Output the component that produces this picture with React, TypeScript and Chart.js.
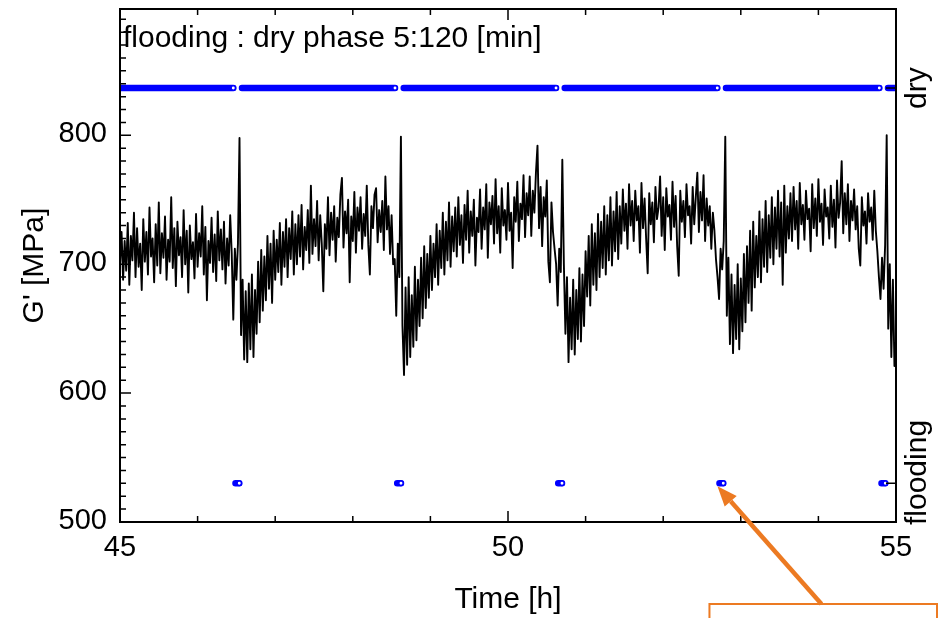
import React, { useEffect, useRef } from "react";
import { Chart, registerables } from "chart.js";

Chart.register(...registerables);

const FONT = "'Liberation Sans', Arial, Helvetica, sans-serif";
const ORANGE = "#EC7A22";
const BLUE = "rgb(0,0,255)";
const TICK_FONT = 29;
const TITLE_FONT = 30;

// x axis (time, h)
const TIME_START = 45;
const TIME_END = 55;
const X_MAJOR_STEP = 5;
const X_MINOR_STEP = 1;
// y axis (G', MPa)
const Y_MIN = 500;
const Y_MAX = 898;
const Y_MAJOR_STEP = 100;
const Y_MINOR_STEP = 10;
const yTickLabels = [500, 600, 700, 800];

// sampling interval of the G' record (h)
const SAMPLE_STEP_H = 0.02;

// start time of each G' record segment (h)
const segmentStarts = [45.0, 46.46, 48.54, 50.62, 52.7, 54.78];

// G' [MPa] values
const gSeg0 = [
  700, 725, 688, 718, 695, 732, 684, 722, 703, 740,
  690, 728, 698, 716, 680, 735, 702, 725, 692, 744,
  706, 720, 686, 731, 699, 748, 693, 724, 705, 737,
  688, 719, 702, 752, 697, 728, 683, 733, 707, 721,
  690, 742, 700, 726, 678, 730, 704, 717, 689, 739,
  698, 724, 706, 745, 692, 729, 672, 718, 701, 736,
  694, 723, 687, 741, 703, 727, 696, 733, 685, 720,
  699, 738, 708,
];
const gSeg1 = [
  657, 712, 688, 716, 798, 645, 688, 626, 679, 624,
  685, 634, 692, 628, 680, 646, 702, 655, 711, 664,
  706, 672, 722, 681, 716, 670, 726, 688, 719, 694,
  732, 684, 725, 698, 735, 690, 728, 704, 741, 692,
  731, 700, 738, 706, 746, 696, 729, 711, 742, 701,
  761, 708, 735, 714, 749, 703, 738, 716, 679, 731,
  712, 752, 707, 740, 719, 745, 702, 736, 721, 754,
  767, 713, 741, 724, 750, 686, 737, 718, 756, 709,
  744, 726, 752, 712, 739, 722, 761, 715, 692, 745,
  728, 754, 759, 717, 742, 725, 749, 711, 768, 727,
  745, 708, 738, 700,
];
const gSeg2 = [
  704, 660, 716, 690, 799, 652, 614, 682, 622, 690,
  628, 676, 636, 698, 641, 688, 652, 705, 658, 714,
  666, 708, 674, 722, 680, 716, 690, 731, 684, 726,
  697, 740, 692, 733, 703, 748, 698, 737, 710, 744,
  706, 752, 715, 738, 701, 746, 719, 757, 709, 741,
  722, 750, 699, 736, 725, 758, 712, 744, 727, 762,
  705, 748, 731, 753, 716, 766, 724, 745, 709, 759,
  730, 742, 719, 763, 726, 740, 697, 752, 733, 764,
  718, 747, 735, 769, 721, 755, 738, 768, 722, 757,
  740, 771, 792, 728, 760, 714, 752, 737, 765, 702,
  686, 748, 725, 712,
];
const gSeg3 = [
  700, 668, 712, 694, 781, 700, 646, 690, 624, 674,
  634, 688, 630, 680, 642, 697, 640, 692, 652, 710,
  675, 722, 668, 731, 684, 724, 680, 739, 690, 733,
  697, 745, 692, 738, 703, 752, 699, 741, 710, 756,
  704, 745, 716, 758, 726, 747, 712, 762, 730, 749,
  718, 757, 734, 745, 709, 763, 728, 751, 720, 693,
  755, 731, 748, 717, 760, 735, 744, 768, 722, 752,
  711, 759, 737, 746, 719, 764, 729, 753, 714, 691,
  757, 733, 749, 721, 762, 738, 745, 716, 760, 731,
  752, 771, 725, 756, 734, 769, 718, 751, 730, 745,
  712, 740, 726, 704,
];
const gSeg4 = [
  690, 673, 712, 696, 718, 799, 660, 705, 638, 692,
  631, 684, 642, 700, 634, 689, 648, 708, 655, 714,
  670, 726, 664, 733, 682, 722, 690, 741, 686, 735,
  698, 749, 694, 738, 705, 752, 700, 744, 712, 757,
  706, 748, 684, 761, 709, 745, 720, 755, 718, 760,
  727, 749, 712, 763, 731, 746, 719, 757, 735, 743,
  710, 762, 728, 751, 722, 766, 733, 747, 715, 758,
  737, 744, 720, 761, 729, 750, 713, 765, 736, 748,
  780, 724, 755, 731, 762, 718, 749, 734, 758, 727,
  745, 712, 699, 752, 730, 741, 716, 755, 733, 744,
  719, 757, 726, 710,
];
const gSeg5 = [690, 673, 705, 681, 715, 800, 650, 700, 628, 688, 621, 640];

const gSegments = [gSeg0, gSeg1, gSeg2, gSeg3, gSeg4, gSeg5];

// phase state series: dry and flooding intervals (h)
const drySegments = [
  [45.0, 46.46],
  [46.572, 48.544],
  [48.656, 50.619],
  [50.731, 52.697],
  [52.809, 54.785],
  [54.897, 55.0],
];
const floodSegments = [
  [46.488, 46.537],
  [48.572, 48.621],
  [50.647, 50.696],
  [52.725, 52.774],
  [54.813, 54.862],
];
const STATE_FLOOD = 0;
const STATE_DRY = 1;
const stateLabels = ["flooding", "dry"];
const STATE_MIN = -0.098;
const STATE_MAX = 1.2;

const titleText = "flooding : dry phase 5:120 [min]";
const xTitle = "Time [h]";
const yTitle = "G' [MPa]";
const annotatedFlood = 3;

function buildGData() {
  const pts: { x: number; y: number }[] = [];
  gSegments.forEach((seg, s) => {
    seg.forEach((v, k) => {
      pts.push({ x: segmentStarts[s] + k * SAMPLE_STEP_H, y: v });
    });
  });
  return pts;
}

function buildStateData(segs: number[][], level: number) {
  const pts: any[] = [];
  segs.forEach(([a, b]) => {
    pts.push({ x: a, y: level });
    pts.push({ x: b, y: level, end: b < TIME_END });
    pts.push({ x: b, y: null });
  });
  return pts;
}

function fixBox(dim: "width" | "height", size: number) {
  return (s: any) => {
    s[dim] = size;
    s.paddingTop = 0;
    s.paddingBottom = 0;
    s.paddingLeft = 0;
    s.paddingRight = 0;
  };
}

const decorPlugin = {
  id: "decor",
  afterDatasetsDraw(chart: any) {
    const { ctx, chartArea: a, scales } = chart;
    const xs = scales.x;
    const ys = scales.y;
    const ss = scales.state;
    ctx.save();
    ctx.strokeStyle = "#000";
    ctx.lineWidth = 1.5;
    ctx.beginPath();
    const nX = Math.round((TIME_END - TIME_START) / X_MINOR_STEP);
    for (let k = 0; k <= nX; k++) {
      const t = TIME_START + k * X_MINOR_STEP;
      const px = xs.getPixelForValue(t);
      const major = Math.abs((t - TIME_START) % X_MAJOR_STEP) < 1e-6;
      const len = major ? 11 : 6;
      ctx.moveTo(px, a.bottom);
      ctx.lineTo(px, a.bottom - len);
      ctx.moveTo(px, a.top);
      ctx.lineTo(px, a.top + len);
    }
    const nY = Math.floor((Y_MAX - Y_MIN) / Y_MINOR_STEP);
    for (let k = 0; k <= nY; k++) {
      const v = Y_MIN + k * Y_MINOR_STEP;
      const py = ys.getPixelForValue(v);
      const major = (v - Y_MIN) % Y_MAJOR_STEP === 0;
      const len = major ? 11 : 6;
      ctx.moveTo(a.left, py);
      ctx.lineTo(a.left + len, py);
    }
    [STATE_FLOOD, STATE_DRY].forEach((s) => {
      const py = ss.getPixelForValue(s);
      ctx.moveTo(a.right, py);
      ctx.lineTo(a.right - 10, py);
    });
    ctx.stroke();
    ctx.lineWidth = 2;
    ctx.strokeRect(a.left, a.top, a.right - a.left, a.bottom - a.top);

    ctx.fillStyle = "#000";

    // y tick labels
    ctx.font = `${TICK_FONT}px ${FONT}`;
    ctx.textAlign = "right";
    ctx.textBaseline = "middle";
    yTickLabels.forEach((v) => {
      ctx.fillText(String(v), a.left - 13, ys.getPixelForValue(v) - 1);
    });

    // in-plot title
    ctx.font = `${TITLE_FONT}px ${FONT}`;
    ctx.textAlign = "left";
    ctx.textBaseline = "alphabetic";
    ctx.fillText(titleText, a.left + 3, a.top + 38);

    // right state labels (rotated)
    const cx = ss.left + ss.width / 2 + 1;
    [STATE_FLOOD, STATE_DRY].forEach((s) => {
      const label = stateLabels[s];
      const w = ctx.measureText(label).width;
      let cy = ss.getPixelForValue(s);
      cy = Math.min(cy, a.bottom + 3 - w / 2);
      ctx.save();
      ctx.translate(cx, cy);
      ctx.rotate(-Math.PI / 2);
      ctx.textAlign = "center";
      ctx.textBaseline = "middle";
      ctx.fillText(label, 0, 0);
      ctx.restore();
    });

    // orange annotation arrow + box
    const target = floodSegments[annotatedFlood];
    const tipX = xs.getPixelForValue(target[0]) - 2;
    const tipY = ss.getPixelForValue(STATE_FLOOD) + 3;
    const boxLeft = tipX - 8;
    const boxTop = chart.height - 14;
    const sx = boxLeft + 112;
    const sy = boxTop;
    const ang = Math.atan2(tipY - sy, tipX - sx);
    const headLen = 20;
    const headW = 8;
    const bx = tipX - headLen * Math.cos(ang);
    const by = tipY - headLen * Math.sin(ang);
    ctx.strokeStyle = ORANGE;
    ctx.fillStyle = ORANGE;
    ctx.lineWidth = 4.5;
    ctx.lineCap = "butt";
    ctx.beginPath();
    ctx.moveTo(sx, sy);
    ctx.lineTo(bx, by);
    ctx.stroke();
    ctx.beginPath();
    ctx.moveTo(tipX, tipY);
    ctx.lineTo(bx + headW * Math.sin(ang), by - headW * Math.cos(ang));
    ctx.lineTo(bx - headW * Math.sin(ang), by + headW * Math.cos(ang));
    ctx.closePath();
    ctx.fill();
    ctx.lineWidth = 2;
    ctx.strokeRect(boxLeft, boxTop, chart.width - 1 - boxLeft, 40);
    ctx.restore();
  },
};

export default function App() {
  const ref = useRef<HTMLCanvasElement>(null);
  useEffect(() => {
    if (!ref.current) return;
    const stateStyle = {
      borderColor: BLUE,
      borderWidth: 6.5,
      borderCapStyle: "round",
      pointRadius: (c: any) => (c.raw && c.raw.end ? 2.2 : 0),
      pointBackgroundColor: "#fff",
      pointBorderColor: BLUE,
      pointBorderWidth: 1.5,
      spanGaps: false,
      yAxisID: "state",
      clip: 0,
    };
    const chart = new Chart(ref.current, {
      type: "line",
      data: {
        datasets: [
          {
            label: "G'",
            data: buildGData(),
            borderColor: "#000",
            borderWidth: 1.9,
            borderJoinStyle: "round",
            pointRadius: 0,
            tension: 0,
            yAxisID: "y",
            clip: 0,
          } as any,
          { label: "dry", data: buildStateData(drySegments, STATE_DRY), ...stateStyle } as any,
          { label: "flooding", data: buildStateData(floodSegments, STATE_FLOOD), ...stateStyle } as any,
        ],
      },
      options: {
        responsive: false,
        animation: false,
        events: [],
        layout: { padding: { top: 9, left: 0, right: 0, bottom: 0 } },
        plugins: { legend: { display: false }, tooltip: { enabled: false } },
        scales: {
          x: {
            type: "linear",
            position: "bottom",
            min: TIME_START,
            max: TIME_END,
            grid: { display: false, drawTicks: false, tickLength: 0 },
            border: { display: false },
            ticks: {
              stepSize: X_MAJOR_STEP,
              autoSkip: false,
              color: "#000",
              font: { size: TICK_FONT, family: FONT },
              padding: 9,
              maxRotation: 0,
            },
            title: {
              display: true,
              text: xTitle,
              color: "#000",
              font: { size: TITLE_FONT, family: FONT },
              padding: { top: 0, bottom: 0 },
            },
            afterFit: fixBox("height", 96),
          },
          y: {
            type: "linear",
            position: "left",
            min: Y_MIN,
            max: Y_MAX,
            grid: { display: false, drawTicks: false, tickLength: 0 },
            border: { display: false },
            ticks: { display: false },
            title: {
              display: true,
              text: yTitle,
              color: "#000",
              font: { size: TITLE_FONT, family: FONT },
              padding: { top: 17, bottom: 0 },
            },
            afterFit: fixBox("width", 120),
          },
          state: {
            type: "linear",
            position: "right",
            min: STATE_MIN,
            max: STATE_MAX,
            grid: { display: false, drawTicks: false, tickLength: 0 },
            border: { display: false },
            ticks: { display: false },
            afterFit: fixBox("width", 42),
          },
        },
      } as any,
      plugins: [decorPlugin],
    });
    return () => chart.destroy();
  }, []);
  return (
    <div style={{ position: "absolute", left: 0, top: 0, width: 938, height: 618, background: "#fff" }}>
      <canvas ref={ref} width={938} height={618} style={{ display: "block" }} />
    </div>
  );
}
